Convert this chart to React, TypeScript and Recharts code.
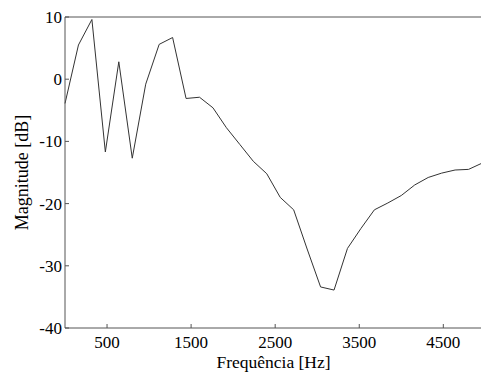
import { LineChart, Line, XAxis, YAxis } from 'recharts';

// frequency bins (Hz) and measured magnitude (dB)
const freqs = [
  0, 160, 320, 480, 640, 800, 960, 1120, 1280, 1440, 1600, 1760, 1920, 2080, 2240, 2400,
  2560, 2720, 2880, 3040, 3200, 3360, 3520, 3680, 3840, 4000, 4160, 4320, 4480, 4640, 4800, 4960,
];
const magnitude = [
  -3.9, 5.5, 9.6, -11.7, 2.8, -12.7, -0.8, 5.6, 6.7, -3.1, -2.9, -4.6, -7.8, -10.5, -13.2, -15.2,
  -19.0, -21.0, -27.3, -33.4, -33.9, -27.2, -24.0, -21.0, -19.9, -18.7, -17.0, -15.8, -15.1, -14.6, -14.5, -13.5,
];
const xTicks = [500, 1500, 2500, 3500, 4500];
const yTicks = [-40, -30, -20, -10, 0, 10];

const data = freqs.map((f, i) => ({ f, mag: magnitude[i] }));

const FONT = 'Liberation Serif';
const AXIS = '#555';

function XTick(props: any) {
  const { x, y, payload } = props;
  return (
    <text x={x} y={y} dy="0.71em" textAnchor="middle" fontFamily={FONT} fontSize={17} fill="#000">
      {payload.value}
    </text>
  );
}

function YTick(props: any) {
  const { x, y, payload } = props;
  return (
    <text x={x} y={y} dy="0.35em" textAnchor="end" fontFamily={FONT} fontSize={17} fill="#000">
      {payload.value}
    </text>
  );
}

export default function App() {
  return (
    <div
      style={{
        position: 'absolute',
        left: 0,
        top: 0,
        width: 481,
        height: 374,
        overflow: 'hidden',
        background: '#fff',
      }}
    >
      <LineChart width={483} height={374} data={data} margin={{ top: 7, right: 0, bottom: 0, left: 0 }}>
        <XAxis
          dataKey="f"
          type="number"
          domain={[0, 4960]}
          ticks={xTicks}
          height={46}
          stroke={AXIS}
          tickSize={-4}
          tickMargin={12}
          tick={<XTick />}
        />
        <XAxis
          xAxisId="top"
          dataKey="f"
          orientation="top"
          type="number"
          domain={[0, 4960]}
          ticks={xTicks}
          height={10}
          stroke={AXIS}
          tickSize={-4}
          tick={false}
        />
        <YAxis
          type="number"
          domain={[-40, 10]}
          ticks={yTicks}
          width={65}
          stroke={AXIS}
          tickSize={-4}
          tickMargin={7}
          tick={<YTick />}
        />
        <YAxis
          yAxisId="right"
          orientation="right"
          type="number"
          domain={[-40, 10]}
          ticks={yTicks}
          width={1}
          stroke={AXIS}
          tickSize={-4}
          tick={false}
        />
        {/* invisible twin so the top and right frame axes get drawn */}
        <Line
          xAxisId="top"
          yAxisId="right"
          type="linear"
          dataKey="mag"
          stroke="none"
          dot={false}
          isAnimationActive={false}
        />
        <Line type="linear" dataKey="mag" stroke="#333" strokeWidth={1} dot={false} isAnimationActive={false} />
      </LineChart>
      <svg
        width={481}
        height={374}
        style={{ position: 'absolute', left: 0, top: 0, pointerEvents: 'none' }}
      >
        <text x={273.5} y={368} textAnchor="middle" fontFamily={FONT} fontSize={17.5} fill="#000">
          Frequência [Hz]
        </text>
        <text
          x={28}
          y={172.5}
          transform="rotate(-90 28 172.5)"
          textAnchor="middle"
          fontFamily={FONT}
          fontSize={18}
          fill="#000"
        >
          Magnitude [dB]
        </text>
      </svg>
    </div>
  );
}
